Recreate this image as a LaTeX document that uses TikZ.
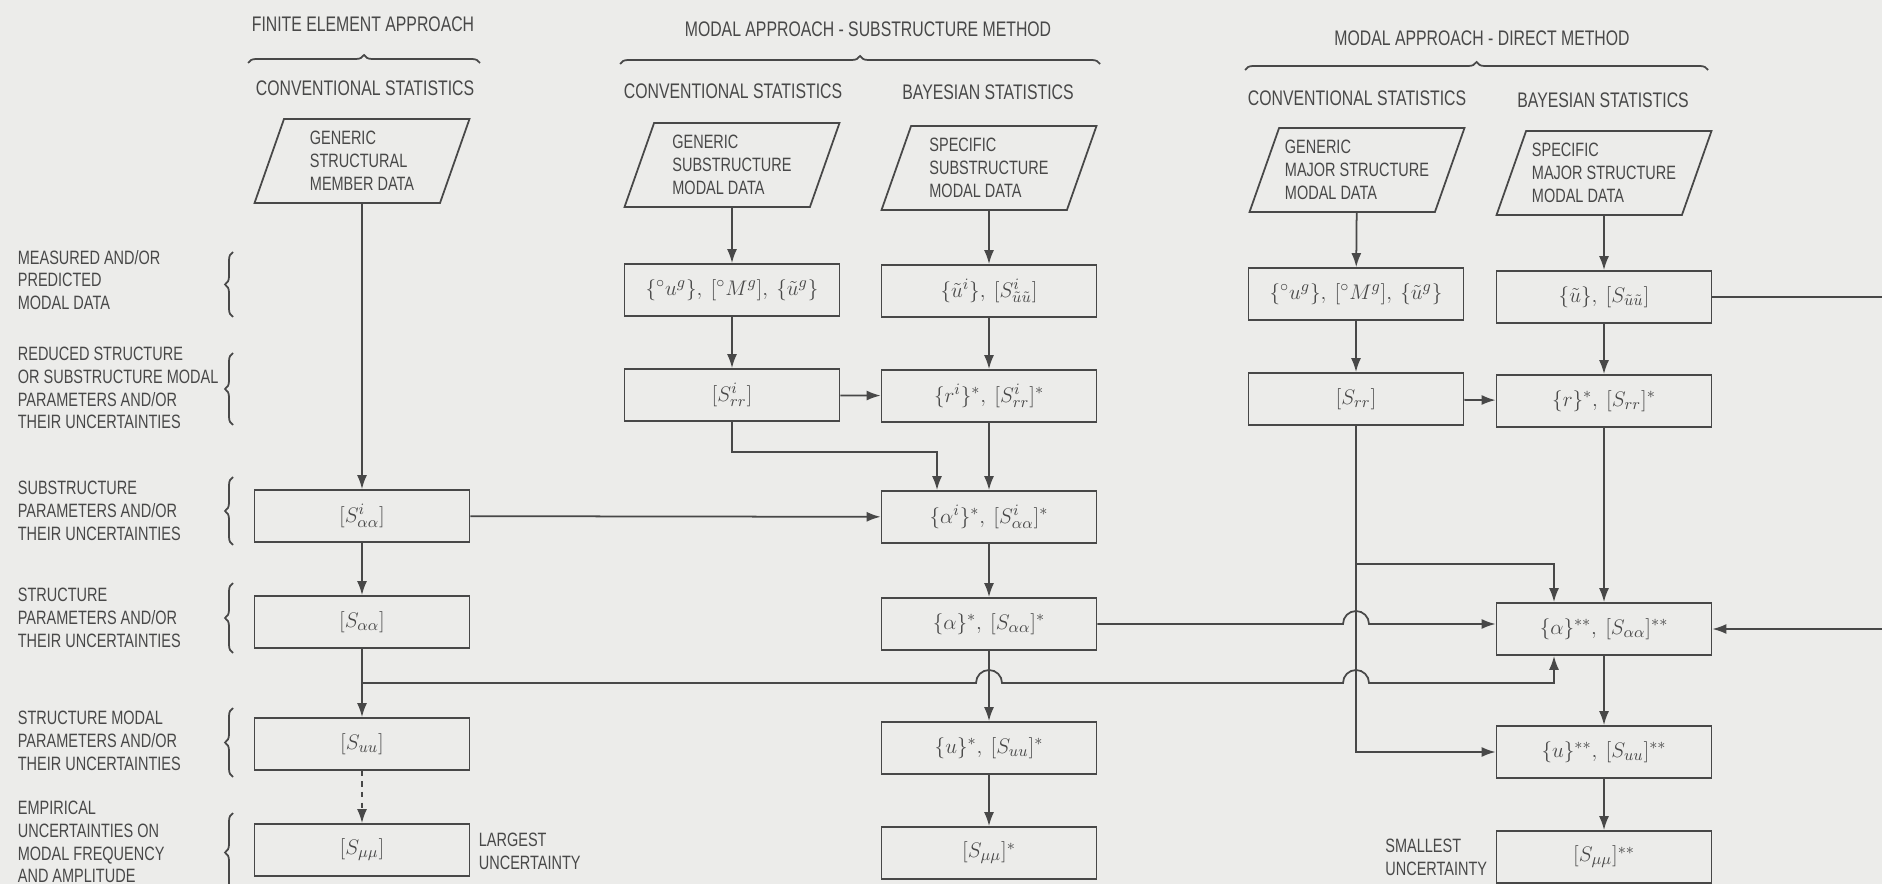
\documentclass[tikz,border=0pt]{standalone}
\usepackage{fontspec}
\setmainfont{Liberation Sans}[FakeStretch=0.75]
\usetikzlibrary{arrows.meta,shapes.geometric,decorations.pathreplacing,calc}

\definecolor{paper}{RGB}{236,236,234}
\definecolor{ink}{RGB}{72,72,72}

\begin{document}
\begin{tikzpicture}[x=0.02cm, y=-0.02cm, line width=1pt, color=ink,
  >={Latex[length=2.8mm,width=2mm]},
  font=\fontsize{11}{13}\selectfont,
  box/.style={draw, rectangle, minimum width=4.3cm, minimum height=1.04cm, inner sep=0pt,
    font=\fontsize{13}{15}\selectfont},
  datain/.style={draw, trapezium, trapezium left angle=66, trapezium right angle=114,
    trapezium stretches body, minimum width=4.3cm, minimum height=1.68cm, align=left, inner sep=2pt},
  side/.style={anchor=west, align=left, inner sep=0pt},
  head/.style={inner sep=0pt, font=\fontsize{12}{14}\selectfont},
  grp/.style={decorate, decoration={brace, amplitude=1.6mm}},
  flow/.style={->}]

\fill[paper] (0,0) rectangle (1882,884);
\clip (0,0) rectangle (1882,884);

% headings
\node[head] (hfe) at (363,24) {FINITE ELEMENT APPROACH};
\draw[grp] (248,63) -- (480,63);
\node[head] (hfec) at (365,88) {CONVENTIONAL STATISTICS};

\node[head] (hsub) at (868,29) {MODAL APPROACH - SUBSTRUCTURE METHOD};
\draw[grp] (620,64) -- (1100,64);
\node[head] (hsubc) at (733,91) {CONVENTIONAL STATISTICS};
\node[head] (hsubb) at (988,92) {BAYESIAN STATISTICS};

\node[head] (hdir) at (1482,38) {MODAL APPROACH - DIRECT METHOD};
\draw[grp] (1245,70) -- (1708,70);
\node[head] (hdirc) at (1357,98) {CONVENTIONAL STATISTICS};
\node[head] (hdirb) at (1603,100) {BAYESIAN STATISTICS};

% row labels
\node[side] (l1) at (17,280) {MEASURED AND/OR\\PREDICTED\\MODAL DATA};
\draw[grp] (233,317) -- (233,252);
\node[side] (l2) at (17,388) {REDUCED STRUCTURE\\OR SUBSTRUCTURE MODAL\\PARAMETERS AND/OR\\THEIR UNCERTAINTIES};
\draw[grp] (233,425) -- (233,353);
\node[side] (l3) at (17,511) {SUBSTRUCTURE\\PARAMETERS AND/OR\\THEIR UNCERTAINTIES};
\draw[grp] (233,545) -- (233,477);
\node[side] (l4) at (17,618) {STRUCTURE\\PARAMETERS AND/OR\\THEIR UNCERTAINTIES};
\draw[grp] (233,653) -- (233,583);
\node[side] (l5) at (17,741) {STRUCTURE MODAL\\PARAMETERS AND/OR\\THEIR UNCERTAINTIES};
\draw[grp] (233,777) -- (233,708);
\node[side] (l6) at (17,842) {EMPIRICAL\\UNCERTAINTIES ON\\MODAL FREQUENCY\\AND AMPLITUDE};
\draw[grp] (233,892) -- (233,813);

% finite element column
\node[datain] (fe0) at (362,161) {GENERIC\\STRUCTURAL\\MEMBER DATA};
\node[box] (fe3) at (362,516) {$[S^{i}_{\alpha\alpha}]$};
\node[box] (fe4) at (362,622) {$[S_{\alpha\alpha}]$};
\node[box] (fe5) at (362,744) {$[S_{uu}]$};
\node[box] (fe6) at (362,850) {$[S_{\mu\mu}]$};
\node[side] (big) at (478,851) {LARGEST\\UNCERTAINTY};

% substructure method
\node[datain] (sc0) at (732,165) {GENERIC\\SUBSTRUCTURE\\MODAL DATA};
\node[box] (sc1) at (732,290) {$\{{}^{\circ}u^{g}\},\ [{}^{\circ}M^{g}],\ \{\tilde u^{g}\}$};
\node[box] (sc2) at (732,395) {$[S^{i}_{rr}]$};

\node[datain] (sb0) at (989,168) {SPECIFIC\\SUBSTRUCTURE\\MODAL DATA};
\node[box] (sb1) at (989,291) {$\{\tilde u^{i}\},\ [S^{i}_{\tilde u\tilde u}]$};
\node[box] (sb2) at (989,396) {$\{r^{i}\}^{*},\ [S^{i}_{rr}]^{*}$};
\node[box] (sb3) at (989,517) {$\{\alpha^{i}\}^{*},\ [S^{i}_{\alpha\alpha}]^{*}$};
\node[box] (sb4) at (989,624) {$\{\alpha\}^{*},\ [S_{\alpha\alpha}]^{*}$};
\node[box] (sb5) at (989,748) {$\{u\}^{*},\ [S_{uu}]^{*}$};
\node[box] (sb6) at (989,853) {$[S_{\mu\mu}]^{*}$};

% direct method
\node[datain] (dc0) at (1357,170) {GENERIC\\MAJOR STRUCTURE\\MODAL DATA};
\node[box] (dc1) at (1356,294) {$\{{}^{\circ}u^{g}\},\ [{}^{\circ}M^{g}],\ \{\tilde u^{g}\}$};
\node[box] (dc2) at (1356,399) {$[S_{rr}]$};

\node[datain] (db0) at (1604,173) {SPECIFIC\\MAJOR STRUCTURE\\MODAL DATA};
\node[box] (db1) at (1604,297) {$\{\tilde u\},\ [S_{\tilde u\tilde u}]$};
\node[box] (db2) at (1604,401) {$\{r\}^{*},\ [S_{rr}]^{*}$};
\node[box] (db4) at (1604,629) {$\{\alpha\}^{**},\ [S_{\alpha\alpha}]^{**}$};
\node[box] (db5) at (1604,752) {$\{u\}^{**},\ [S_{uu}]^{**}$};
\node[box] (db6) at (1604,857) {$[S_{\mu\mu}]^{**}$};
\node[side, anchor=east] (small) at (1488,857) {SMALLEST\\UNCERTAINTY};

\coordinate (febr) at (362,683);
\coordinate (dcbr) at (1356,564);

% connectors
\draw[flow] (fe0) -- (fe3);
\draw[flow] (fe3) -- (fe4);
\draw[flow] (fe4) -- (fe5);
\draw[flow, dashed] (fe5) -- (fe6);
\draw[flow] (fe3) -- (sb3);

\draw[flow] (sc0) -- (sc1);
\draw[flow] (sc1) -- (sc2);
\draw[flow] (sc2) -- (sb2);
\draw[flow] (sc2.south) -- ++(0,30) -| ($(sb3.north)+(-52,0)$);

\draw[flow] (sb0) -- (sb1);
\draw[flow] (sb1) -- (sb2);
\draw[flow] (sb2) -- (sb3);
\draw[flow] (sb3) -- (sb4);
\draw[flow] (sb4) -- (sb5);
\draw[flow] (sb5) -- (sb6);
\draw[flow] (sb4.east) -- ($(sb4.east -| dc2)+(-13,0)$)
  arc[start angle=180, end angle=360, radius=13] -- (sb4.east -| db4.west);

\draw[flow] (dc0) -- (dc1);
\draw[flow] (dc1) -- (dc2);
\draw[flow] (dc2) -- (db2);
\draw[flow] (dc2.south) |- (db5.west);
\draw[flow] (dcbr) -| ($(db4.north)+(-50,0)$);

\draw[flow] (db0) -- (db1);
\draw[flow] (db1) -- (db2);
\draw[flow] (db2) -- (db4);
\draw[flow] (db4) -- (db5);
\draw[flow] (db5) -- (db6);
\draw[flow] (db1.east) -- ++(200,0) |- (db4.east);

\draw[flow] (febr) -- ($(febr -| sb4)+(-13,0)$)
  arc[start angle=180, end angle=360, radius=13]
  -- ($(febr -| dc2)+(-13,0)$)
  arc[start angle=180, end angle=360, radius=13]
  -| ($(db4.south)+(-50,0)$);

\end{tikzpicture}
\end{document}
